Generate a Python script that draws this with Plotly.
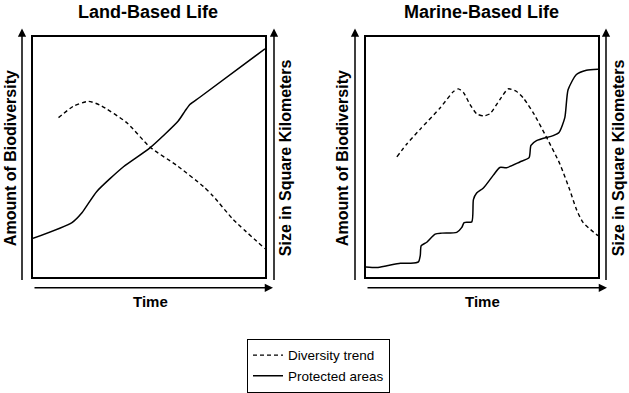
import plotly.graph_objects as go

# ---- data (normalized 0-100 units in each panel) ----
land_div_x = [11.0, 17.5, 23.9, 28.9, 40.4, 50.4, 61.9, 73.4, 77.7, 86.2, 100]
land_div_y = [66.5, 71.3, 73.3, 71.7, 64.4, 54.2, 46.6, 37.8, 33.7, 24.1, 11.8]

land_prot_x = [0, 16.8, 21.1, 27.5, 39.0, 50.4, 62.6, 65.5, 67.6, 71.9, 100]
land_prot_y = [16.1, 22.7, 26.8, 35.7, 46.0, 53.9, 65.1, 69.2, 72.0, 75.0, 95.2]

marine_div_x = [13.3, 17.6, 23.4, 32.0, 37.7, 39.8, 42.0, 44.8, 47.7, 50.6, 53.4, 57.7,
                61.3, 64.9, 67.8, 72.1, 77.8, 83.5, 87.8, 90.7, 93.6, 100]
marine_div_y = [50.1, 55.5, 61.7, 70.6, 77.4, 78.5, 77.0, 72.0, 68.1, 67.2, 68.1, 74.0,
                78.5, 77.4, 74.7, 68.5, 58.3, 47.3, 36.4, 28.2, 22.7, 17.2]

marine_prot_x = [0, 4.7, 9.0, 14.8, 19.1, 22.6, 23.4, 23.8, 26.2, 29.8, 32.7, 39.1, 41.3,
                 42.3, 45.6, 46.3, 47.7, 50.6, 54.9, 57.7, 60.6, 66.3, 70.3, 71.1, 73.5,
                 80.7, 83.2, 85.7, 87.1, 90.7, 95.0, 100]
marine_prot_y = [4.2, 4.0, 4.7, 5.7, 5.7, 6.3, 9.0, 13.1, 14.5, 17.9, 18.3, 18.6, 20.7,
                 22.7, 23.0, 32.3, 35.0, 37.1, 42.5, 45.7, 45.6, 48.0, 49.8, 54.9, 56.9,
                 59.0, 60.3, 66.5, 78.1, 84.5, 86.3, 86.7]

panel_titles = ["Land-Based Life", "Marine-Based Life"]
x_label = "Time"
y_label_left = "Amount of Biodiversity"
y_label_right = "Size in Square Kilometers"
legend_names = ["Diversity trend", "Protected areas"]

W, H = 629, 393
FONT = "Liberation Sans, Arial, sans-serif"


def px(x):
    return x / W


def py(y):
    return 1 - y / H


fig = go.Figure()

dash_style = dict(color="black", width=1.4, dash="4px,3px", shape="spline", smoothing=0.6)
solid_style = dict(color="black", width=1.5, shape="spline", smoothing=0.6)

fig.add_trace(go.Scatter(x=land_div_x, y=land_div_y, mode="lines", line=dash_style,
                         name=legend_names[0], legendgroup="d", xaxis="x", yaxis="y"))
fig.add_trace(go.Scatter(x=land_prot_x, y=land_prot_y, mode="lines", line=solid_style,
                         name=legend_names[1], legendgroup="p", xaxis="x", yaxis="y"))
fig.add_trace(go.Scatter(x=marine_div_x, y=marine_div_y, mode="lines", line=dash_style,
                         name=legend_names[0], legendgroup="d", showlegend=False,
                         xaxis="x2", yaxis="y2"))
fig.add_trace(go.Scatter(x=marine_prot_x, y=marine_prot_y, mode="lines", line=solid_style,
                         name=legend_names[1], legendgroup="p", showlegend=False,
                         xaxis="x2", yaxis="y2"))

ax_common = dict(range=[0, 100], showgrid=False, zeroline=False, showticklabels=False,
                 ticks="", showline=True, mirror=True, linecolor="black", linewidth=1.5,
                 fixedrange=True)

panels = [
    dict(x0=33, x1=265, la=22, ra=274, bend=273, tcx=148, lcx=10, rcx=285),
    dict(x0=366, x1=598, la=355, ra=606, bend=607, tcx=482, lcx=342, rcx=618),
]
box_top, box_bot = 38, 282

fig.update_layout(
    xaxis=dict(domain=[px(panels[0]["x0"]), px(panels[0]["x1"])], anchor="y", **ax_common),
    yaxis=dict(domain=[py(box_bot), py(box_top)], anchor="x", **ax_common),
    xaxis2=dict(domain=[px(panels[1]["x0"]), px(panels[1]["x1"])], anchor="y2", **ax_common),
    yaxis2=dict(domain=[py(box_bot), py(box_top)], anchor="x2", **ax_common),
)

ann = []
centered = dict(xref="paper", yref="paper", showarrow=False, xanchor="center", yanchor="middle")
for i, p in enumerate(panels):
    ann.append(dict(text="<b>%s</b>" % panel_titles[i], x=px(p["tcx"]), y=py(12),
                    font=dict(family=FONT, size=18, color="black"), **centered))
    ann.append(dict(text="<b>%s</b>" % x_label, x=px((p["x0"] + p["x1"]) / 2 + 1), y=py(307),
                    font=dict(family=FONT, size=15, color="black"), **centered))
    ann.append(dict(text="<b>%s</b>" % y_label_left, x=px(p["lcx"]), y=py(161), textangle=-90,
                    font=dict(family=FONT, size=16, color="black"), **centered))
    ann.append(dict(text="<b>%s</b>" % y_label_right, x=px(p["rcx"]), y=py(161), textangle=-90,
                    font=dict(family=FONT, size=16, color="black"), **centered))
    for ax_x in (p["la"], p["ra"]):
        ann.append(dict(text="", x=px(ax_x), y=py(29), xref="paper", yref="paper",
                        showarrow=True, ax=0, ay=box_bot - 29, axref="pixel", ayref="pixel",
                        arrowhead=2, arrowsize=1.1, arrowwidth=1.5, arrowcolor="black"))
    ann.append(dict(text="", x=px(p["bend"]), y=py(293), xref="paper", yref="paper",
                    showarrow=True, ax=-(p["bend"] - p["x0"]), ay=0, axref="pixel", ayref="pixel",
                    arrowhead=2, arrowsize=1.1, arrowwidth=1.5, arrowcolor="black"))

fig.update_layout(
    width=W, height=H, autosize=False,
    margin=dict(l=0, r=0, t=0, b=0),
    paper_bgcolor="white", plot_bgcolor="white",
    annotations=ann,
    showlegend=True,
    legend=dict(x=px(247), y=py(345), xanchor="left", yanchor="top",
                bordercolor="black", borderwidth=1, bgcolor="white",
                font=dict(family=FONT, size=13.5, color="black"),
                tracegroupgap=0, itemwidth=30),
)

fig.write_html("out.html", config={"displayModeBar": False},
               post_script="document.body.style.margin='0';")
